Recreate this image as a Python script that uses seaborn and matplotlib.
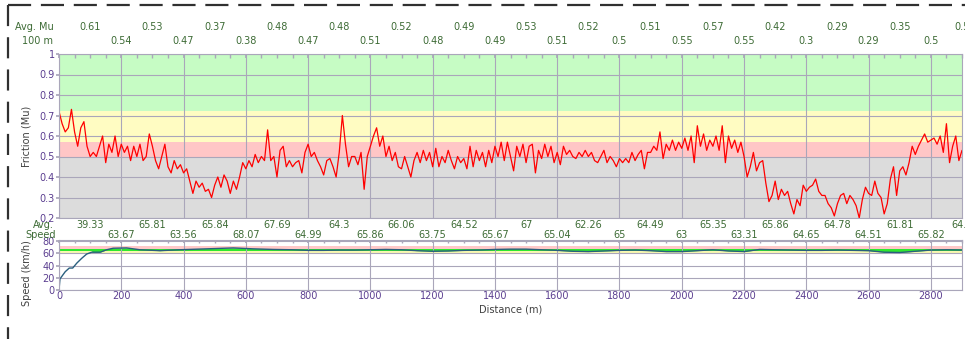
import numpy as np
import matplotlib
matplotlib.use('Agg')
import matplotlib.pyplot as plt
import matplotlib.transforms as mtransforms
from matplotlib.lines import Line2D
import seaborn as sns

# friction (Mu), one reading every 10 m from 0 to 2900 m
fric_step = 10
fric_mu = [
    0.72, 0.66, 0.62, 0.64, 0.73, 0.62, 0.55, 0.64, 0.67, 0.55,
    0.50, 0.52, 0.50, 0.55, 0.60, 0.47, 0.56, 0.52, 0.60, 0.50,
    0.56, 0.52, 0.55, 0.48, 0.55, 0.50, 0.56, 0.48, 0.50, 0.61,
    0.55, 0.48, 0.44, 0.50, 0.56, 0.45, 0.42, 0.48, 0.44, 0.46,
    0.42, 0.44, 0.38, 0.32, 0.38, 0.35, 0.37, 0.33, 0.34, 0.30,
    0.36, 0.40, 0.35, 0.41, 0.38, 0.32, 0.38, 0.34, 0.40, 0.47,
    0.44, 0.48, 0.45, 0.51, 0.47, 0.50, 0.48, 0.63, 0.48, 0.50,
    0.40, 0.53, 0.55, 0.45, 0.48, 0.45, 0.47, 0.48, 0.42, 0.52,
    0.56, 0.50, 0.52, 0.48, 0.45, 0.41, 0.48, 0.49,
    0.45, 0.40, 0.52, 0.70, 0.56, 0.45, 0.50, 0.50, 0.46, 0.52,
    0.34, 0.50, 0.55, 0.60, 0.64, 0.55, 0.60, 0.50, 0.55, 0.48,
    0.52, 0.45, 0.44, 0.50, 0.45, 0.40, 0.48, 0.52, 0.47, 0.53,
    0.48, 0.52, 0.45, 0.54, 0.45, 0.50, 0.47, 0.53, 0.48, 0.44,
    0.50, 0.47, 0.49, 0.44, 0.55, 0.45, 0.53, 0.48, 0.52, 0.45,
    0.53, 0.47, 0.55, 0.50, 0.57, 0.48, 0.57, 0.50, 0.43, 0.55,
    0.50, 0.56, 0.47, 0.55, 0.56, 0.42, 0.53, 0.49, 0.56, 0.50,
    0.55, 0.47, 0.52, 0.46, 0.55, 0.51, 0.53, 0.50, 0.49, 0.52,
    0.50, 0.53, 0.50, 0.52, 0.48, 0.47, 0.50, 0.53, 0.47, 0.50,
    0.48, 0.45, 0.49, 0.47, 0.49, 0.47, 0.52, 0.48, 0.51, 0.53,
    0.44, 0.52,
    0.52, 0.55, 0.53, 0.62, 0.49, 0.56, 0.53, 0.58, 0.53, 0.57,
    0.54, 0.59, 0.53, 0.60, 0.47, 0.65, 0.55, 0.61, 0.53, 0.58,
    0.55, 0.60, 0.53, 0.65, 0.47, 0.60, 0.54, 0.58, 0.52, 0.57,
    0.50, 0.40, 0.45, 0.52, 0.43, 0.47, 0.48, 0.37, 0.28, 0.31,
    0.38, 0.29, 0.34, 0.31, 0.33, 0.27, 0.22, 0.29, 0.26, 0.36,
    0.33, 0.35, 0.36, 0.39, 0.33, 0.31, 0.31, 0.27, 0.25, 0.21,
    0.27, 0.31, 0.32, 0.27, 0.31, 0.29, 0.26, 0.20, 0.29, 0.35,
    0.32, 0.31, 0.38, 0.32, 0.30, 0.22, 0.27, 0.39, 0.45, 0.31,
    0.43, 0.45, 0.41, 0.47, 0.55, 0.51, 0.55, 0.58, 0.61, 0.57,
    0.58, 0.59, 0.56, 0.60, 0.52, 0.66, 0.47, 0.55, 0.60, 0.48,
    0.53,
]
fric_dist = np.arange(len(fric_mu)) * fric_step

# speed (km/h)
spd_dist = [0, 3, 10, 20, 33, 44, 57, 73, 89, 105, 132, 153, 174, 217, 260, 324,
            388, 474, 560, 624, 688, 750, 800, 850, 900, 950, 1000, 1050, 1100,
            1150, 1200, 1250, 1300, 1350, 1400, 1450, 1500, 1550, 1600, 1650,
            1700, 1750, 1800, 1850, 1900, 1950, 2000, 2050, 2100, 2150, 2200,
            2250, 2300, 2350, 2400, 2450, 2500, 2550, 2600, 2650, 2700, 2750,
            2800, 2850, 2900]
spd_kmh = [0, 18, 23, 30, 36, 36, 44, 52, 59, 62, 62, 66, 68.5, 69, 66, 64.5,
           66, 67.5, 69, 67.5, 66.5, 66, 65, 65, 65.5, 65.5, 66, 66.5, 66,
           64.5, 63.5, 64, 65, 65.5, 66.5, 67, 67, 66, 65, 63.5,
           63, 64, 65, 65.5, 64.5, 63, 63, 64.5, 66, 64, 63,
           66.5, 66, 65.5, 65, 65, 65.5, 65, 64.5, 62, 61.5, 63.5,
           65.5, 66, 65.5]

# 100 m averages, shown on two staggered rows
mu_row1_pos = [100, 300, 500, 700, 900, 1100, 1300, 1500, 1700, 1900, 2100, 2300, 2500, 2700, 2900]
mu_row1 = ['0.61', '0.53', '0.37', '0.48', '0.48', '0.52', '0.49', '0.53', '0.52', '0.51',
           '0.57', '0.42', '0.29', '0.35', '0.5']
mu_row2_pos = [200, 400, 600, 800, 1000, 1200, 1400, 1600, 1800, 2000, 2200, 2400, 2600, 2800]
mu_row2 = ['0.54', '0.47', '0.38', '0.47', '0.51', '0.48', '0.49', '0.51', '0.5', '0.55',
           '0.55', '0.3', '0.29', '0.5']
spd_row1 = ['39.33', '65.81', '65.84', '67.69', '64.3', '66.06', '64.52', '67', '62.26',
            '64.49', '65.35', '65.86', '64.78', '61.81', '64.9']
spd_row2 = ['63.67', '63.56', '68.07', '64.99', '65.86', '63.75', '65.67', '65.04', '65',
            '63', '63.31', '64.65', '64.51', '65.82']

W, H = 965, 339
purple = '#5b3e90'
green_txt = '#3d6b35'
grid_c = '#aaa6ba'

sns.set_theme(style='white')
plt.rcParams['font.family'] = ['DejaVu Sans']
plt.rcParams['font.size'] = 7

fig = plt.figure(figsize=(W / 100, H / 100), dpi=100)


def px_box(l, t, r, b):
    return [l / W, 1 - b / H, (r - l) / W, (b - t) / H]


ax_f = fig.add_axes(px_box(59, 54, 962, 218))
ax_s = fig.add_axes(px_box(59, 240, 962, 290))

# friction panel
for lo, hi, c in [(0.2, 0.5, '#dcdcdc'), (0.5, 0.57, '#ffc6c6'),
                  (0.57, 0.72, '#fffcc2'), (0.72, 1.0, '#c6fcc4')]:
    ax_f.axhspan(lo, hi, color=c, lw=0, zorder=0.2)
sns.lineplot(x=fric_dist, y=fric_mu, ax=ax_f, color='#ff0000', lw=0.9, estimator=None)
ax_f.set_xlim(0, 2900)
ax_f.set_ylim(0.2, 1.0)
ax_f.set_yticks(np.arange(2, 11) / 10)
ax_f.set_yticklabels(['0.2', '0.3', '0.4', '0.5', '0.6', '0.7', '0.8', '0.9', '1'])
ax_f.set_xticks(range(0, 2901, 200))
ax_f.set_xticks(range(0, 2901, 50), minor=True)
ax_f.tick_params(axis='x', which='both', bottom=False, top=True, labelbottom=False,
                 direction='in', length=3, color=grid_c)
ax_f.set_ylabel('Friction (Mu)', color='#404040', fontsize=7)
ax_f.yaxis.set_label_coords(-0.030, 0.5)

# speed panel
spd_arr = np.array(spd_kmh)
ax_s.axhspan(68, 72, color='#ffc8c8', lw=0, zorder=0.2)
ax_s.axhspan(59, 64, color='#f8f8b0', lw=0, zorder=0.2)
ax_s.axhspan(64, 67, color='#2ee82e', lw=0, zorder=0.3)
ax_s.fill_between(spd_dist, spd_kmh, 65.5, where=spd_arr >= 61.5,
                  color='#2ee82e', lw=0, zorder=0.3)
sns.lineplot(x=spd_dist, y=spd_kmh, ax=ax_s, color='#2a5f7e', lw=1, estimator=None)
ax_s.set_xlim(0, 2900)
ax_s.set_ylim(0, 82)
ax_s.set_yticks([0, 20, 40, 60, 80])
ax_s.set_xticks(range(0, 2801, 200))
ax_s.set_xticks(range(0, 2901, 50), minor=True)
ax_s.tick_params(axis='x', which='both', top=True, direction='in', length=2, color=grid_c)
ax_s.set_xlabel('Distance (m)', color='#404040', fontsize=7, labelpad=2)
ax_s.set_ylabel('Speed (km/h)', color='#404040', fontsize=7)
ax_s.yaxis.set_label_coords(-0.030, 0.34)

for ax in (ax_f, ax_s):
    ax.set_axisbelow(True)
    ax.grid(True, which='major', color=grid_c, lw=0.8)
    ax.tick_params(axis='both', which='major', labelsize=7, labelcolor=purple, pad=1)
    ax.tick_params(axis='y', left=True, length=2, color=grid_c)
    for s in ax.spines.values():
        s.set_color(grid_c)
        s.set_linewidth(0.8)

# staggered 100 m averages
trans = mtransforms.blended_transform_factory(ax_f.transData, fig.transFigure)
for x, t in zip(mu_row1_pos, mu_row1):
    fig.text(x, 1 - 27 / H, t, transform=trans, ha='center', va='center', color=green_txt, fontsize=7)
for x, t in zip(mu_row2_pos, mu_row2):
    fig.text(x, 1 - 41 / H, t, transform=trans, ha='center', va='center', color=green_txt, fontsize=7)
for x, t in zip(mu_row1_pos, spd_row1):
    fig.text(x, 1 - 225 / H, t, transform=trans, ha='center', va='center', color=green_txt, fontsize=7)
for x, t in zip(mu_row2_pos, spd_row2):
    fig.text(x, 1 - 235 / H, t, transform=trans, ha='center', va='center', color=green_txt, fontsize=7)

fig.text(34 / W, 1 - 27 / H, 'Avg. Mu', ha='center', va='center', color=green_txt, fontsize=7)
fig.text(37 / W, 1 - 41 / H, '100 m', ha='center', va='center', color=green_txt, fontsize=7)
fig.text(54 / W, 1 - 225 / H, 'Avg.', ha='right', va='center', color=green_txt, fontsize=7)
fig.text(56 / W, 1 - 235 / H, 'Speed', ha='right', va='center', color=green_txt, fontsize=7)

# dashed selection frame of the screenshot
fig.add_artist(Line2D([8 / W, 1], [1 - 5 / H, 1 - 5 / H], transform=fig.transFigure,
                      color='#303030', lw=1.6, dashes=(10.4, 4.4)))
fig.add_artist(Line2D([8 / W, 8 / W], [1 - 5 / H, 0], transform=fig.transFigure,
                      color='#303030', lw=1.6, dashes=(9.5, 5)))

fig.savefig('out.png', dpi=100)
